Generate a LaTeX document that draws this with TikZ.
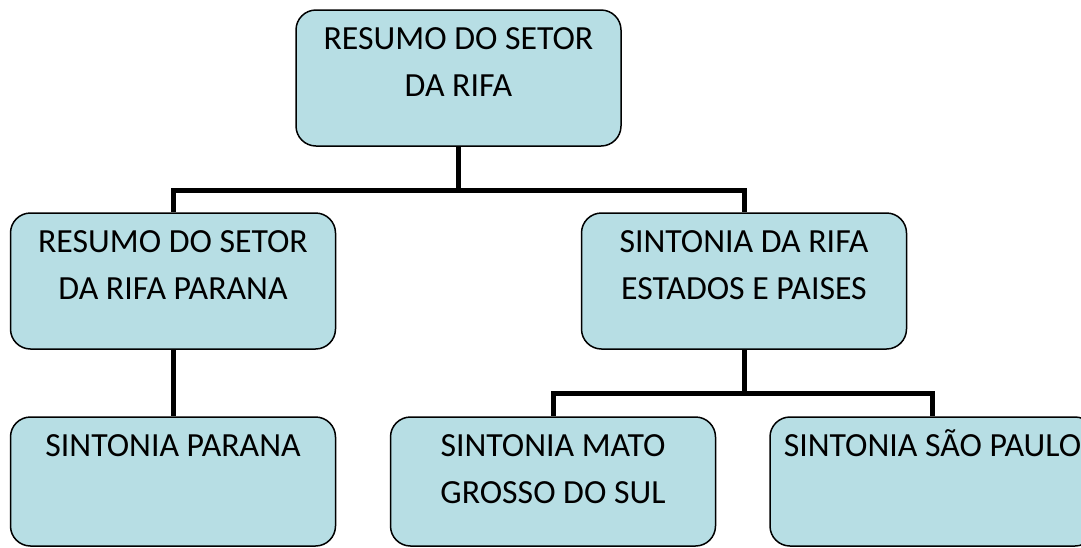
\documentclass[tikz,border=0pt]{standalone}
\usepackage{fontspec}
\setmainfont{Carlito}
\usepackage{tikz}
\usetikzlibrary{positioning}
\definecolor{boxblue}{RGB}{183,222,228}
\newcommand{\topstrut}{\rule{0pt}{29pt}}
\tikzstyle{box}=[draw=black,line width=1.5pt,fill=boxblue,rounded corners=20pt,minimum width=325pt,minimum height=136pt,inner sep=0pt]
\tikzstyle{bottom box} = [box, minimum height=129pt]
\tikzstyle{caption} = [align=center,font=\fontsize{33.8}{47}\selectfont,inner sep=0pt]
\tikzstyle{edge} = [draw,line width=5pt,line join=miter,-]

\begin{document}
\begin{tikzpicture}[x=1pt,y=-1pt]
    \useasboundingbox (0,0) rectangle (1081,547);
    % First the boxes of the two upper rows
    \foreach \pos/\name/\txt in {{(458.5,78)/rifa/RESUMO DO SETOR\\DA RIFA},{(173,281)/parana/RESUMO DO SETOR\\DA RIFA PARANA},{(744,281)/paises/SINTONIA DA RIFA\\ESTADOS E PAISES}}
    {
        \node[box] (\name) at \pos {};
        \node[caption,below=11pt of \name.north] (\name-text) {\topstrut\txt};
    }

    % Then the bottom row
    \foreach \pos/\name/\txt in {{(173,481.5)/sparana/SINTONIA PARANA},{(553,481.5)/mato/SINTONIA MATO\\GROSSO DO SUL},{(932.5,481.5)/saopaulo/SINTONIA SÃO PAULO}}
    {
        \node[bottom box] (\name) at \pos {};
        \node[caption,below=11pt of \name.north] (\name-text) {\topstrut\txt};
    }

    % Connect boxes with edges
    \path[edge] (rifa.south) -- ++(0,44) coordinate (j1) -| (parana.north);
    \path[edge] (j1) -| (paises.north);
    \path[edge] (parana.south) -- (sparana.north);
    \path[edge] (paises.south) -- ++(0,44) coordinate (j2) -| (mato.north);
    \path[edge] (j2) -| (saopaulo.north);
\end{tikzpicture}
\end{document}
